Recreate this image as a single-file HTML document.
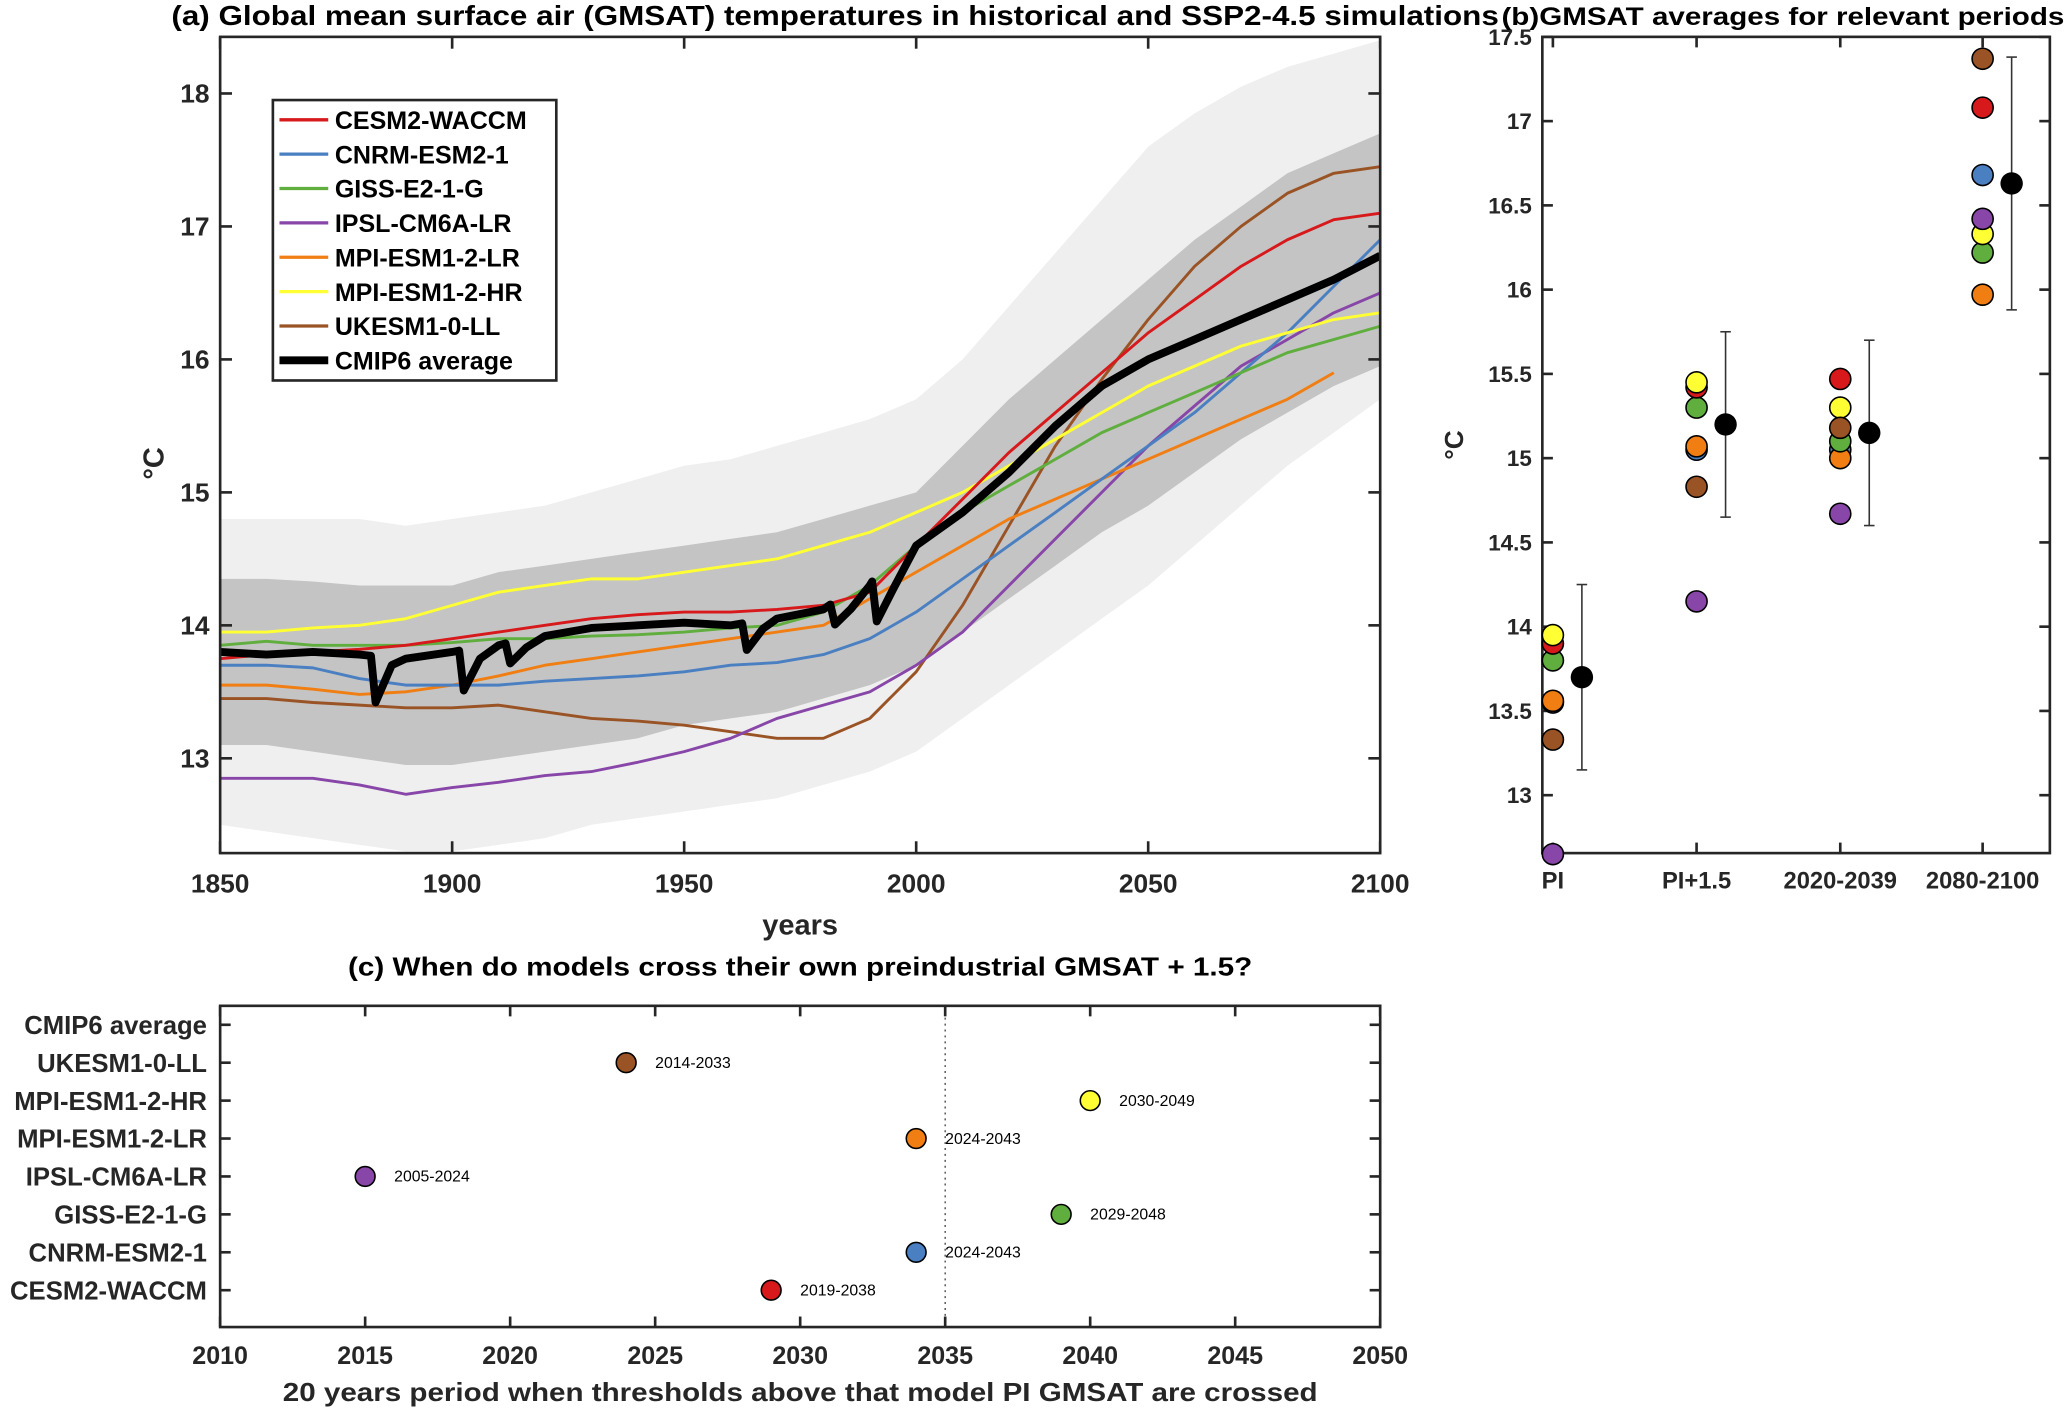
<!DOCTYPE html>
<html><head><meta charset="utf-8"><style>
html,body{margin:0;padding:0;background:#fff;}
svg{display:block;font-family:"Liberation Sans",Arial,sans-serif;font-weight:bold;}
</style></head><body>
<svg id="fig" width="2067" height="1410" viewBox="0 0 1568 1071" preserveAspectRatio="none" xmlns="http://www.w3.org/2000/svg">
<g id="pa"></g>
<g id="pb"></g>
<g id="pc"></g>
</svg>
<script>
// ---------- Panel (a) data ----------
const years = [1850,1860,1870,1880,1890,1900,1910,1920,1930,1940,1950,1960,1970,1980,1990,2000,2010,2020,2030,2040,2050,2060,2070,2080,2090,2100];
const modelNames = ["CESM2-WACCM","CNRM-ESM2-1","GISS-E2-1-G","IPSL-CM6A-LR","MPI-ESM1-2-LR","MPI-ESM1-2-HR","UKESM1-0-LL"];
const modelColors = ["#d7191c","#4a7fc1","#5fae3e","#8846a8","#f07e12","#ffff33","#9a5325"];
const cesm  = [13.75,13.78,13.8,13.82,13.85,13.9,13.95,14.0,14.05,14.08,14.1,14.1,14.12,14.15,14.25,14.6,14.95,15.3,15.6,15.9,16.2,16.45,16.7,16.9,17.05,17.1];
const cnrm  = [13.7,13.7,13.68,13.6,13.55,13.55,13.55,13.58,13.6,13.62,13.65,13.7,13.72,13.78,13.9,14.1,14.35,14.6,14.85,15.1,15.35,15.6,15.9,16.2,16.55,16.9];
const giss  = [13.85,13.88,13.85,13.85,13.85,13.87,13.9,13.9,13.92,13.93,13.95,13.98,14.0,14.1,14.3,14.6,14.85,15.05,15.25,15.45,15.6,15.75,15.9,16.05,16.15,16.25];
const ipsl  = [12.85,12.85,12.85,12.8,12.73,12.78,12.82,12.87,12.9,12.97,13.05,13.15,13.3,13.4,13.5,13.7,13.95,14.3,14.65,15.0,15.35,15.65,15.95,16.15,16.35,16.5];
const mpilr = [13.55,13.55,13.52,13.48,13.5,13.55,13.62,13.7,13.75,13.8,13.85,13.9,13.95,14.0,14.2,14.4,14.6,14.8,14.95,15.1,15.25,15.4,15.55,15.7,15.9,15.95];
const mpihr = [13.95,13.95,13.98,14.0,14.05,14.15,14.25,14.3,14.35,14.35,14.4,14.45,14.5,14.6,14.7,14.85,15.0,15.2,15.4,15.6,15.8,15.95,16.1,16.2,16.3,16.35];
const ukesm = [13.45,13.45,13.42,13.4,13.38,13.38,13.4,13.35,13.3,13.28,13.25,13.2,13.15,13.15,13.3,13.65,14.15,14.75,15.35,15.85,16.3,16.7,17.0,17.25,17.4,17.45];
const cmipAvg = [13.8,13.78,13.8,13.78,13.75,13.8,13.85,13.92,13.98,14.0,14.02,14.0,14.05,14.12,14.3,14.6,14.85,15.15,15.5,15.8,16.0,16.15,16.3,16.45,16.6,16.78];
const volcanoYears = [1883,1902,1912,1963,1982,1991];
const volcanoDrops = [0.35,0.3,0.15,0.2,0.15,0.3];
const darkUpper = [14.35,14.35,14.33,14.3,14.3,14.3,14.4,14.45,14.5,14.55,14.6,14.65,14.7,14.8,14.9,15.0,15.35,15.7,16.0,16.3,16.6,16.9,17.15,17.4,17.55,17.7];
const darkLower = [13.1,13.1,13.05,13.0,12.95,12.95,13.0,13.05,13.1,13.15,13.25,13.3,13.35,13.45,13.55,13.7,13.95,14.2,14.45,14.7,14.9,15.15,15.4,15.6,15.8,15.95];
const lightUpper = [14.8,14.8,14.8,14.8,14.75,14.8,14.85,14.9,15.0,15.1,15.2,15.25,15.35,15.45,15.55,15.7,16.0,16.4,16.8,17.2,17.6,17.85,18.05,18.2,18.3,18.4];
const lightLower = [12.5,12.45,12.4,12.35,12.3,12.3,12.35,12.4,12.5,12.55,12.6,12.65,12.7,12.8,12.9,13.05,13.3,13.55,13.8,14.05,14.3,14.6,14.9,15.2,15.45,15.7];
const aXTicks = [1850,1900,1950,2000,2050,2100];
const aYTicks = [13,14,15,16,17,18];

// ---------- Panel (b) data ----------
const periods = ["PI","PI+1.5","2020-2039","2080-2100"];
const bCesm  = [13.9,15.42,15.47,17.08];
const bCnrm  = [13.55,15.05,15.05,16.68];
const bGiss  = [13.8,15.3,15.1,16.22];
const bIpsl  = [12.65,14.15,14.67,16.42];
const bMpilr = [13.56,15.07,15.0,15.97];
const bMpihr = [13.95,15.45,15.3,16.33];
const bUkesm = [13.33,14.83,15.18,17.37];
const bMean  = [13.7,15.2,15.15,16.63];
const bLow   = [13.15,14.65,14.6,15.88];
const bHigh  = [14.25,15.75,15.7,17.38];
const bYTicks = [13,13.5,14,14.5,15,15.5,16,16.5,17,17.5];

// ---------- Panel (c) data ----------
const cRows = ["CESM2-WACCM","CNRM-ESM2-1","GISS-E2-1-G","IPSL-CM6A-LR","MPI-ESM1-2-LR","MPI-ESM1-2-HR","UKESM1-0-LL","CMIP6 average"];
const cCross = [2029,2034,2039,2015,2034,2040,2024,null];
const cLabels = ["2019-2038","2024-2043","2029-2048","2005-2024","2024-2043","2030-2049","2014-2033",""];
const cXTicks = [2010,2015,2020,2025,2030,2035,2040,2045,2050];

const NS="http://www.w3.org/2000/svg";
function mk(parent,tag,attrs,txt){const e=document.createElementNS(NS,tag);for(const k in attrs)e.setAttribute(k,attrs[k]);if(txt!==undefined)e.textContent=txt;parent.appendChild(e);return e;}

// ===== Panel A =====
const A={l:167,r:1047,t:28,b:648};
const ax=y=>A.l+(y-1850)*(A.r-A.l)/250;
const ay=v=>576-(v-13)*101;
const pa=document.getElementById('pa');
function bandPath(up,lo){let d='M';years.forEach((y,i)=>{d+=(i?'L':'')+ax(y).toFixed(1)+','+ay(up[i]).toFixed(1);});for(let i=years.length-1;i>=0;i--)d+='L'+ax(years[i]).toFixed(1)+','+ay(lo[i]).toFixed(1);return d+'Z';}
const clip=mk(pa,'clipPath',{id:'clipA'});mk(clip,'rect',{x:A.l,y:A.t,width:A.r-A.l,height:A.b-A.t});
const plotA=mk(pa,'g',{'clip-path':'url(#clipA)'});
let e=mk(plotA,'path',{d:bandPath(lightUpper,lightLower),fill:'#efefef'});

e=mk(plotA,'path',{d:bandPath(darkUpper,darkLower),fill:'#c4c4c4'});

const series=[cesm,cnrm,giss,ipsl,mpilr,mpihr,ukesm];
const drawOrder=[6,3,4,1,2,5,0];
drawOrder.forEach(k=>{const s=series[k];let pts=years.map((y,i)=>ax(y).toFixed(1)+','+ay(s[i]).toFixed(1));
 if(k===4)pts=pts.slice(0,25);
 const p=mk(plotA,'polyline',{points:pts.join(' '),fill:'none',stroke:modelColors[k],'stroke-width':2.2,'stroke-linejoin':'round'});
 });
let avgPts=[];years.forEach((y,i)=>{avgPts.push([y,cmipAvg[i]]);});
volcanoYears.forEach((vy,j)=>{const i=years.findIndex(y=>y>vy)-1;const t=(vy-years[i])/10;const base=cmipAvg[i]+(cmipAvg[i+1]-cmipAvg[i])*t;
 avgPts.push([vy-0.5,base]);avgPts.push([vy+0.5,base-volcanoDrops[j]]);avgPts.push([vy+4,base-volcanoDrops[j]*0.2]);});
avgPts.sort((a,b)=>a[0]-b[0]);
e=mk(plotA,'polyline',{points:avgPts.map(p=>ax(p[0]).toFixed(1)+','+ay(p[1]).toFixed(1)).join(' '),fill:'none',stroke:'#000','stroke-width':6,'stroke-linejoin':'round'});

mk(pa,'rect',{x:A.l,y:A.t,width:A.r-A.l,height:A.b-A.t,fill:'none',stroke:'#262626','stroke-width':2});
aXTicks.forEach(t=>{const x=ax(t);mk(pa,'line',{x1:x,x2:x,y1:A.b,y2:A.b-9,stroke:'#262626','stroke-width':2});mk(pa,'line',{x1:x,x2:x,y1:A.t,y2:A.t+9,stroke:'#262626','stroke-width':2});
 const tx=mk(pa,'text',{x:x,y:678,'text-anchor':'middle','font-size':20,fill:'#262626'},t);});
aYTicks.forEach(t=>{const y=ay(t);mk(pa,'line',{x1:A.l,x2:A.l+9,y1:y,y2:y,stroke:'#262626','stroke-width':2});mk(pa,'line',{x1:A.r,x2:A.r-9,y1:y,y2:y,stroke:'#262626','stroke-width':2});
 const tx=mk(pa,'text',{x:159,y:y+7,'text-anchor':'end','font-size':20,fill:'#262626'},t);});
e=mk(pa,'text',{x:607,y:710,'text-anchor':'middle','font-size':22,fill:'#262626'},'years');
e=mk(pa,'text',{x:0,y:0,'font-size':22,fill:'#262626',transform:'translate(124,352) rotate(-90)','text-anchor':'middle'},'°C');
e=mk(pa,'text',{x:130,y:19,'font-size':21,fill:'#000',textLength:1007,lengthAdjust:'spacingAndGlyphs'},'(a) Global mean surface air (GMSAT) temperatures in historical and SSP2-4.5 simulations');
const lg=mk(pa,'g',{});
mk(lg,'rect',{x:207,y:76,width:215,height:213,fill:'#fff',stroke:'#262626','stroke-width':2});
const legNames=modelNames.concat(['CMIP6 average']);
legNames.forEach((n,i)=>{const y=91+i*26.1;const col=i<7?modelColors[i]:'#000';
 const g=mk(lg,'g',{});
 mk(g,'line',{x1:212,x2:249,y1:y,y2:y,stroke:col,'stroke-width':i<7?2.5:6});
 mk(g,'text',{x:254,y:y+7,'font-size':19,fill:'#000'},n);});

// ===== Panel B =====
const B={l:1170,r:1555,t:28,b:648};
const bx=[1178,1287,1396,1504];
const by=v=>604-(v-13)*128;
const pb=document.getElementById('pb');
mk(pb,'rect',{x:B.l,y:B.t,width:B.r-B.l,height:B.b-B.t,fill:'none',stroke:'#262626','stroke-width':2});
bYTicks.forEach(t=>{const y=by(t);mk(pb,'line',{x1:B.l,x2:B.l+8,y1:y,y2:y,stroke:'#262626','stroke-width':2});mk(pb,'line',{x1:B.r,x2:B.r-8,y1:y,y2:y,stroke:'#262626','stroke-width':2});
 const tx=mk(pb,'text',{x:1162,y:y+6,'text-anchor':'end','font-size':17,fill:'#262626'},t);});
periods.forEach((p,i)=>{mk(pb,'line',{x1:bx[i],x2:bx[i],y1:B.b,y2:B.b-8,stroke:'#262626','stroke-width':2});mk(pb,'line',{x1:bx[i],x2:bx[i],y1:B.t,y2:B.t+8,stroke:'#262626','stroke-width':2});
 const tx=mk(pb,'text',{x:bx[i],y:675,'text-anchor':'middle','font-size':18,fill:'#262626'},p);});
const bSeries=[bCesm,bCnrm,bGiss,bIpsl,bMpilr,bMpihr,bUkesm];
const bOrder=[1,4,2,0,5,6,3];
periods.forEach((p,i)=>{
 bOrder.forEach(k=>{const c=mk(pb,'circle',{cx:bx[i],cy:by(bSeries[k][i]),r:8,fill:modelColors[k],stroke:'#000','stroke-width':1.2});
  });
 const xm=bx[i]+22;
 const eb=mk(pb,'g',{});
 mk(eb,'line',{x1:xm,x2:xm,y1:by(bLow[i]),y2:by(bHigh[i]),stroke:'#333','stroke-width':1.2});
 mk(eb,'line',{x1:xm-4,x2:xm+4,y1:by(bLow[i]),y2:by(bLow[i]),stroke:'#333','stroke-width':1.2});
 mk(eb,'line',{x1:xm-4,x2:xm+4,y1:by(bHigh[i]),y2:by(bHigh[i]),stroke:'#333','stroke-width':1.2});
 const m=mk(pb,'circle',{cx:xm,cy:by(bMean[i]),r:8.5,fill:'#000'});
});
e=mk(pb,'text',{x:0,y:0,'font-size':20,fill:'#262626',transform:'translate(1110,338) rotate(-90)','text-anchor':'middle'},'°C');
e=mk(pb,'text',{x:1139,y:19,'font-size':19,fill:'#000',textLength:427,lengthAdjust:'spacingAndGlyphs'},'(b)GMSAT averages for relevant periods');

// ===== Panel C =====
const C={l:167,r:1047,t:764,b:1008};
const cx=y=>C.l+(y-2010)*(C.r-C.l)/40;
const cy=i=>980-i*28.8;
const pc=document.getElementById('pc');
mk(pc,'line',{x1:cx(2035),x2:cx(2035),y1:C.t,y2:C.b,stroke:'#444','stroke-width':1,'stroke-dasharray':'1.5,3'});
mk(pc,'rect',{x:C.l,y:C.t,width:C.r-C.l,height:C.b-C.t,fill:'none',stroke:'#262626','stroke-width':2});
cXTicks.forEach(t=>{const x=cx(t);mk(pc,'line',{x1:x,x2:x,y1:C.b,y2:C.b-8,stroke:'#262626','stroke-width':2});mk(pc,'line',{x1:x,x2:x,y1:C.t,y2:C.t+8,stroke:'#262626','stroke-width':2});
 const tx=mk(pc,'text',{x:x,y:1036,'text-anchor':'middle','font-size':19,fill:'#262626'},t);});
cRows.forEach((n,i)=>{const y=cy(i);mk(pc,'line',{x1:C.l,x2:C.l+8,y1:y,y2:y,stroke:'#262626','stroke-width':2});mk(pc,'line',{x1:C.r,x2:C.r-8,y1:y,y2:y,stroke:'#262626','stroke-width':2});
 const tx=mk(pc,'text',{x:157,y:y+7,'text-anchor':'end','font-size':19.5,fill:'#262626'},n);
 if(cCross[i]!==null){const c=mk(pc,'circle',{cx:cx(cCross[i]),cy:y,r:7.5,fill:modelColors[i],stroke:'#000','stroke-width':1.2});
  
  const l=mk(pc,'text',{x:cx(cCross[i])+22,y:y+4,'font-size':12,'font-weight':'normal',fill:'#000'},cLabels[i]);}});
e=mk(pc,'text',{x:607,y:1064,'text-anchor':'middle','font-size':20,fill:'#262626',textLength:785,lengthAdjust:'spacingAndGlyphs'},'20 years period when thresholds above that model PI GMSAT are crossed');
e=mk(pc,'text',{x:607,y:741,'text-anchor':'middle','font-size':20,fill:'#000',textLength:686,lengthAdjust:'spacingAndGlyphs'},'(c) When do models cross their own preindustrial GMSAT + 1.5?');
</script>
</body></html>
